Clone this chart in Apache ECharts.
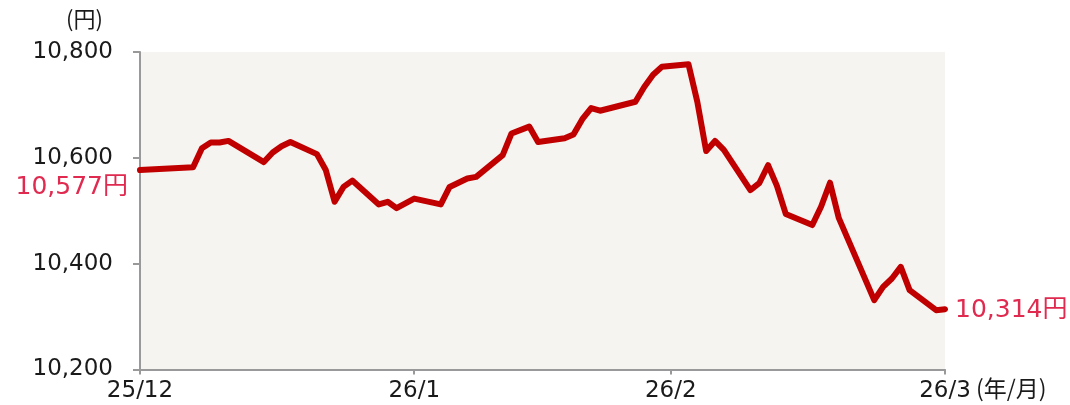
<!DOCTYPE html>
<html>
<head>
<meta charset="utf-8">
<script src="https://cdn.jsdelivr.net/npm/echarts@6/dist/echarts.min.js"></script>
<style>
html,body{margin:0;padding:0;background:#fff;}
#chart{width:1070px;height:405px;}
</style>
</head>
<body>
<div id="chart"></div>
<script>
// ---- data ----
const dates = [
 '2025-12-30',
 '2026-01-05','2026-01-06','2026-01-07','2026-01-08','2026-01-09',
 '2026-01-13','2026-01-14','2026-01-15','2026-01-16',
 '2026-01-19','2026-01-20','2026-01-21','2026-01-22','2026-01-23',
 '2026-01-26','2026-01-27','2026-01-28','2026-01-29','2026-01-30',
 '2026-02-02','2026-02-03','2026-02-04','2026-02-05','2026-02-06',
 '2026-02-09','2026-02-10','2026-02-12','2026-02-13',
 '2026-02-16','2026-02-17','2026-02-18','2026-02-19','2026-02-20',
 '2026-02-24','2026-02-25','2026-02-26','2026-02-27',
 '2026-03-02','2026-03-03','2026-03-04','2026-03-05','2026-03-06',
 '2026-03-09','2026-03-10','2026-03-11','2026-03-12','2026-03-13',
 '2026-03-16','2026-03-17','2026-03-18','2026-03-19',
 '2026-03-23','2026-03-24','2026-03-25','2026-03-26','2026-03-27',
 '2026-03-30','2026-03-31'
];
const prices = [
 10577,
 10582,10618,10629,10629,10632,
 10592,10610,10622,10630,
 10607,10577,10517,10545,10557,
 10512,10517,10505,10514,10523,
 10512,10545,10553,10561,10564,
 10605,10646,10659,10630,
 10637,10644,10673,10694,10689,
 10706,10734,10757,10772,
 10777,10706,10613,10632,10615,
 10539,10552,10586,10547,10494,
 10473,10508,10553,10486,
 10331,10356,10372,10394,10350,
 10312,10314
];
const tickDates = ['2025-12-30','2026-01-30','2026-02-28','2026-03-31'];
const tickLabels = ['25/12','26/1','26/2','26/3'];
const yTicks = [10200, 10400, 10600, 10800];
const yUnit = '(円)';
const xUnit = '(年/月)';
const priceSuffix = '円';

// ---- helpers ----
const DAY = 86400000;
function utc(s){ const p = s.split('-').map(Number); return Date.UTC(p[0], p[1]-1, p[2]); }
const origin = utc(dates[0]);
function dayOf(s){ return Math.round((utc(s) - origin) / DAY); }
function fmt(v){ return String(v).replace(/\B(?=(\d{3})+(?!\d))/g, ','); }

const tickDays = tickDates.map(dayOf);
const lastIdx = prices.length - 1;
const FONT = "'DejaVu Sans', 'Noto Sans CJK JP', sans-serif";
const CJK = "'Noto Sans CJK JP', sans-serif";
const RED_TXT = '#e02a50';

const seriesData = dates.map((d, i) => {
  const item = { value: [dayOf(d), prices[i]] };
  if (i === 0) {
    item.label = { show: true, position: 'left', distance: 8, offset: [-4, 17],
      formatter: p => fmt(p.value[1]) + priceSuffix,
      color: RED_TXT, fontSize: 25, fontFamily: FONT };
  } else if (i === lastIdx) {
    item.label = { show: true, position: 'right', distance: 10, offset: [0, 1],
      formatter: p => fmt(p.value[1]) + priceSuffix,
      color: RED_TXT, fontSize: 25, fontFamily: FONT };
  }
  return item;
});

const chart = echarts.init(document.getElementById('chart'), null, { renderer: 'canvas' });
chart.setOption({
  animation: false,
  textStyle: { fontFamily: FONT },
  grid: { left: 140, right: 125, top: 52, bottom: 35.5, show: true,
          backgroundColor: '#f5f4f0', borderWidth: 0 },
  xAxis: {
    type: 'value',
    min: tickDays[0], max: tickDays[tickDays.length - 1],
    axisLine: { show: true, lineStyle: { color: '#999', width: 2 } },
    axisTick: { show: true, length: 5, customValues: tickDays, lineStyle: { color: '#999', width: 2 } },
    axisLabel: { customValues: tickDays, hideOverlap: false, showMinLabel: true, showMaxLabel: true,
      formatter: v => { const k = tickDays.indexOf(v); return k >= 0 ? tickLabels[k] : ''; },
      color: '#1a1a1a', fontSize: 23, margin: 10, fontFamily: FONT },
    splitLine: { show: false }
  },
  yAxis: {
    type: 'value', min: yTicks[0], max: yTicks[yTicks.length - 1], interval: 200,
    axisLine: { show: true, lineStyle: { color: '#999', width: 2 } },
    axisTick: { show: true, length: 7, lineStyle: { color: '#999', width: 2 } },
    axisLabel: { formatter: v => fmt(v), color: '#1a1a1a', fontSize: 23, margin: 27, fontFamily: FONT },
    splitLine: { show: false }
  },
  graphic: [
    { type: 'text', left: 66, top: 8, style: { text: yUnit, fill: '#1a1a1a', font: '22px ' + CJK } },
    { type: 'text', left: 976, top: 377, style: { text: xUnit, fill: '#1a1a1a', font: '23px ' + CJK } }
  ],
  series: [{
    type: 'line',
    data: seriesData,
    showSymbol: true,
    showAllSymbol: true,
    symbol: 'circle',
    symbolSize: 0,
    lineStyle: { color: '#c00000', width: 6, join: 'round', cap: 'round' },
    itemStyle: { color: '#c00000' },
    z: 3
  }]
});
</script>
</body>
</html>
